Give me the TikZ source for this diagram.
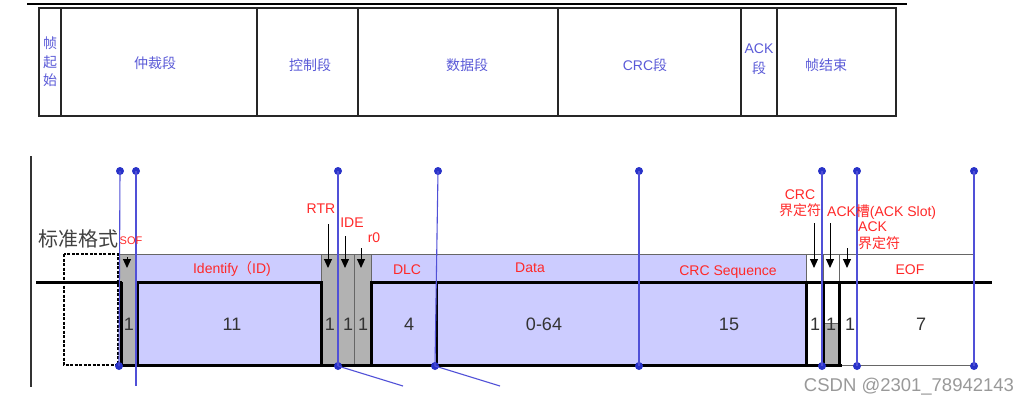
\documentclass[tikz,border=0pt]{standalone}
\usepackage{fontspec}
\setmainfont{Liberation Sans}
\newfontfamily\cjk{Noto Sans CJK SC}
\newcommand{\zh}[1]{{\cjk #1}}
\usepackage{tikz}
\usetikzlibrary{positioning,arrows.meta}

\definecolor{fieldblue}{RGB}{204,204,255}
\definecolor{bitgray}{RGB}{178,178,178}
\definecolor{labred}{RGB}{255,40,40}
\definecolor{segblue}{RGB}{90,90,215}
\definecolor{probeblue}{RGB}{80,80,215}
\definecolor{dotblue}{RGB}{40,50,200}

\tikzset{
  seg/.style={font=\fontsize{14}{18.5}\selectfont,text=segblue,inner sep=0pt},
  lab/.style={font=\fontsize{14}{16}\selectfont,text=labred,inner sep=0pt},
  bits/.style={font=\fontsize{18}{20}\selectfont,text=black!80,inner sep=0pt},
  wire/.style={line width=3pt,black},
  outl/.style={line width=0.8pt,black!60},
  probe/.style={line width=1.1pt,probeblue},
  bluedot/.style={circle,fill=dotblue,inner sep=0pt,minimum size=8pt},
  pointer/.style={-{Triangle[length=9pt,width=8pt]},line width=1pt,black},
}

\begin{document}
\begin{tikzpicture}[x=1pt,y=-1pt]
\useasboundingbox (0,0) rectangle (1030,405);
% top table of frame segments
\draw[line width=2pt] (27,4) -- (907,4);
\draw[line width=1.8pt,black!85] (39,8) rectangle (896,116);
\foreach \xx in {61,257,358,558,741,777} {\draw[line width=1.8pt,black!85] (\xx,8) -- (\xx,116);}
\node[seg,align=center] (segsof) at (50,62) {\zh{帧}\\\zh{起}\\\zh{始}};
\node[seg] (segarb) at (155,63) {\zh{仲裁段}};
\node[seg] (segctl) at (310,65) {\zh{控制段}};
\node[seg] (segdat) at (467,65) {\zh{数据段}};
\node[seg] (segcrc) at (645,65) {CRC\zh{段}};
\node[seg,align=center,font=\fontsize{14}{20}\selectfont] (segack) at (759,59) {ACK\\\zh{段}};
\node[seg] (segeof) at (826,65) {\zh{帧结束}};
% bit diagram: left rule
\draw[line width=1.5pt,black!80] (31,156) -- (31,387);
% fills
\fill[fieldblue] (136,254) rectangle (321,282);
\fill[fieldblue] (371,254) rectangle (806,282);
\fill[fieldblue] (137,282) rectangle (321,365);
\fill[fieldblue] (371,282) rectangle (806,365);
\fill[bitgray] (120,254) rectangle (136,365);
\fill[bitgray] (321,254) rectangle (371,365);
\fill[bitgray] (823,323) rectangle (839,365);
% thin outlines
\draw[outl] (120,254) -- (974,254);
\foreach \xx in {136,321,338,354,371,806,823,839} {\draw[outl] (\xx,254) -- (\xx,282);}
\draw[outl] (338,282) -- (338,365) (354,282) -- (354,365);
\draw[outl] (823,323) -- (839,323);
\draw[outl] (842,365) -- (974,365);
% idle level before SOF
\draw[line width=2.5pt,dash pattern=on 3pt off 1.5pt] (64,254) rectangle (118,365);
% signal level
\draw[wire] (36,282) -- (122,282);
\draw[wire] (121,282) -- (121,366);
\draw[wire] (120,365) -- (842,365);
\draw[wire] (137,366) -- (137,282) -- (321,282) -- (321,366);
\draw[wire] (371,366) -- (371,282) -- (992,282);
\foreach \xx in {806,823,839} {\draw[wire] (\xx,282) -- (\xx,366);}
\draw[line width=2pt] (437,282) -- (437,365) (639,282) -- (639,365);
% blue probes
\foreach \xt/\xb [count=\i] in {120/119,338/338,438/435,639/639,822/822,857/857,974/974} {
  \node[bluedot] (pt\i) at (\xt,171) {};
  \node[bluedot] (pb\i) at (\xb,366) {};
  \draw[probe] (pt\i.center) -- (pb\i.center);
}
\node[bluedot] (ptsof) at (136,171) {};
\coordinate (tailsof) at (136,386);
\draw[probe] (ptsof.center) -- (tailsof);
\coordinate (tailctl) at (403,386);
\coordinate (taildat) at (500,386);
\draw[probe] (pb2.center) -- (tailctl);
\draw[probe] (pb3.center) -- (taildat);
% field names
\node[font=\cjk\fontsize{20}{22}\selectfont,text=black!75,inner sep=0pt] (lstd) at (78,239) {标准格式};
\node[lab,font=\fontsize{11}{12}\selectfont] (lsof) at (131,241) {SOF};
\node[lab] (lid) at (232,269) {Identify\zh{（}ID)};
\node[lab] (lrtr) at (321,209) {RTR};
\node[lab] (lide) at (352,223) {IDE};
\node[lab] (lr0) at (374,238) {r0};
\node[lab] (ldlc) at (407,270) {DLC};
\node[lab] (ldata) at (530,268) {Data};
\node[lab] (lcrcs) at (728,272) {CRC Sequence};
\node[lab] (leof) at (910,270) {EOF};
\node[lab,align=center] (lcrcd) at (800,203) {CRC\\\zh{界定符}};
\node[lab,anchor=west] (lslot) at (827,212) {ACK\zh{槽}(ACK Slot)};
\node[lab,align=left,anchor=west,font=\fontsize{14}{17}\selectfont] (lackd) at (858,236) {ACK\\\zh{界定符}};
% pointers to single bits
\foreach \xx/\ya [count=\j] in {127/257,328/224,345/236,361/248,814/223,830/223,847/248} {
  \coordinate (ps\j) at (\xx,\ya);
  \coordinate (pe\j) at (\xx,268);
  \draw[pointer] (ps\j) -- (pe\j);
}
% bit counts
\foreach \xx/\nn [count=\k] in {129/1,232/11,330/1,348/1,363/1,409/4,544/0-64,729/15,815/1,831/1,850/1,921/7} {
  \node[bits] (n\k) at (\xx,324) {\nn};
}
\node[font=\fontsize{18.5}{20}\selectfont,text=black!40,inner sep=0pt] (wm) at (909,387) {CSDN @2301\_78942143};
\end{tikzpicture}
\end{document}
